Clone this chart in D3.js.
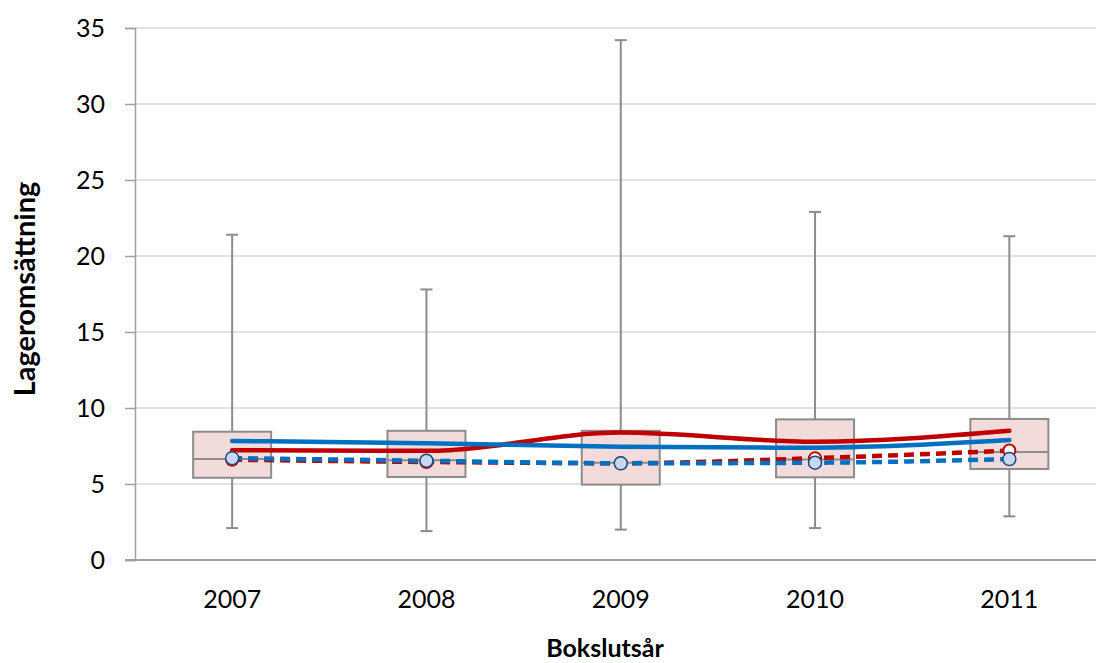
<!DOCTYPE html>
<html><head><meta charset="utf-8">
<script src="https://cdn.jsdelivr.net/npm/d3@7"></script>
<style>body{margin:0;background:#fff}svg{display:block}</style>
</head><body>
<script>
const years = ["2007","2008","2009","2010","2011"];
const whiskerMin = [2.1, 1.9, 2.0, 2.1, 2.87];
const q1 = [5.41, 5.46, 4.96, 5.44, 5.99];
const median = [6.64, 6.56, 6.4, 6.62, 7.1];
const q3 = [8.44, 8.5, 8.5, 9.25, 9.28];
const whiskerMax = [21.4, 17.8, 34.2, 22.9, 21.3];
const redSolid = [7.22, 7.18, 8.38, 7.78, 8.5];
const blueSolid = [7.83, 7.68, 7.45, 7.39, 7.89];
const redDashed = [6.6, 6.45, 6.37, 6.7, 7.2];
const blueDashed = [6.7, 6.53, 6.36, 6.4, 6.64];
const yTicks = [0,5,10,15,20,25,30,35];

(function(){
const W=1096,H=663;
const left=135, topY=28, bottom=560, bandW=194.3;
const svg=d3.select("body").append("svg").attr("width",W).attr("height",H);
const x=d3.scaleBand().domain(years).range([left,left+bandW*years.length]).paddingInner(0).paddingOuter(0);
const y=d3.scaleLinear().domain([0,35]).range([bottom,topY]);
const cx=d=>x(d)+x.bandwidth()/2;
const font="Lato, 'Open Sans', sans-serif";

// gridlines
svg.append("g").selectAll("line").data(yTicks.filter(t=>t>0)).join("line")
 .attr("x1",left).attr("x2",W).attr("y1",d=>y(d)).attr("y2",d=>y(d))
 .attr("stroke","#d9d9d9").attr("stroke-width",1.5);

// y axis
const ya=svg.append("g").attr("transform",`translate(${left},0)`)
 .call(d3.axisLeft(y).tickValues(yTicks).tickSize(10).tickPadding(20));
ya.select(".domain").attr("stroke","#a0a0a0").attr("stroke-width",1.5);
ya.selectAll(".tick line").attr("stroke","#a0a0a0").attr("stroke-width",1.5);
ya.selectAll("text").attr("font-family",font).attr("font-size",25).attr("fill","#000");

// x axis
const xa=svg.append("g").attr("transform",`translate(0,${bottom})`)
 .call(d3.axisBottom(x).tickSize(0).tickPadding(30));
xa.select(".domain").remove();
xa.append("line").attr("x1",left-10).attr("x2",W).attr("y1",0).attr("y2",0).attr("stroke","#a0a0a0").attr("stroke-width",2);
xa.selectAll("text").attr("font-family",font).attr("font-size",25).attr("fill","#000");

// boxes
const boxW=78;
const g=svg.append("g");
years.forEach((yr,i)=>{
  const c=cx(yr);
  g.append("line").attr("x1",c).attr("x2",c).attr("y1",y(whiskerMax[i])).attr("y2",y(q3[i])).attr("stroke","#8c8c8c").attr("stroke-width",2);
  g.append("line").attr("x1",c).attr("x2",c).attr("y1",y(q1[i])).attr("y2",y(whiskerMin[i])).attr("stroke","#8c8c8c").attr("stroke-width",2);
  g.append("line").attr("x1",c-6).attr("x2",c+6).attr("y1",y(whiskerMax[i])).attr("y2",y(whiskerMax[i])).attr("stroke","#8c8c8c").attr("stroke-width",2);
  g.append("line").attr("x1",c-6).attr("x2",c+6).attr("y1",y(whiskerMin[i])).attr("y2",y(whiskerMin[i])).attr("stroke","#8c8c8c").attr("stroke-width",2);
  g.append("rect").attr("x",c-boxW/2).attr("width",boxW).attr("y",y(q3[i])).attr("height",y(q1[i])-y(q3[i]))
   .attr("fill","#f2dcdb").attr("stroke","#8c8c8c").attr("stroke-width",2);
  g.append("line").attr("x1",c-boxW/2).attr("x2",c+boxW/2).attr("y1",y(median[i])).attr("y2",y(median[i])).attr("stroke","#8c8c8c").attr("stroke-width",2);
});

const line=d3.line().x((d,i)=>cx(years[i])).y(d=>y(d)).curve(d3.curveMonotoneX);
function drawLine(data,color,dash){
  svg.append("path").datum(data).attr("d",line).attr("fill","none").attr("stroke",color).attr("stroke-width",4.5)
   .attr("stroke-linecap",dash?"butt":"round").attr("stroke-dasharray",dash?"10,6":null);
}
drawLine(redSolid,"#c00000",false);
drawLine(blueSolid,"#0070c0",false);
drawLine(redDashed,"#c00000",true);
svg.append("g").selectAll("circle").data(redDashed).join("circle")
 .attr("cx",(d,i)=>cx(years[i])).attr("cy",d=>y(d)).attr("r",6).attr("fill","#fff").attr("stroke","#c00000").attr("stroke-width",2);
drawLine(blueDashed,"#0070c0",true);
svg.append("g").selectAll("circle").data(blueDashed).join("circle")
 .attr("cx",(d,i)=>cx(years[i])).attr("cy",d=>y(d)).attr("r",6.5).attr("fill","#c6d9f1").attr("stroke","#1f497d").attr("stroke-width",1.5);

// titles
svg.append("text").attr("x",605).attr("y",657).attr("text-anchor","middle")
 .attr("font-family",font).attr("font-weight","bold").attr("font-size",25).text("Bokslutsår");
svg.append("text").attr("transform","translate(35,289) rotate(-90)").attr("text-anchor","middle")
 .attr("font-family",font).attr("font-weight","bold").attr("font-size",29).text("Lageromsättning");
})();
</script>
</body></html>
